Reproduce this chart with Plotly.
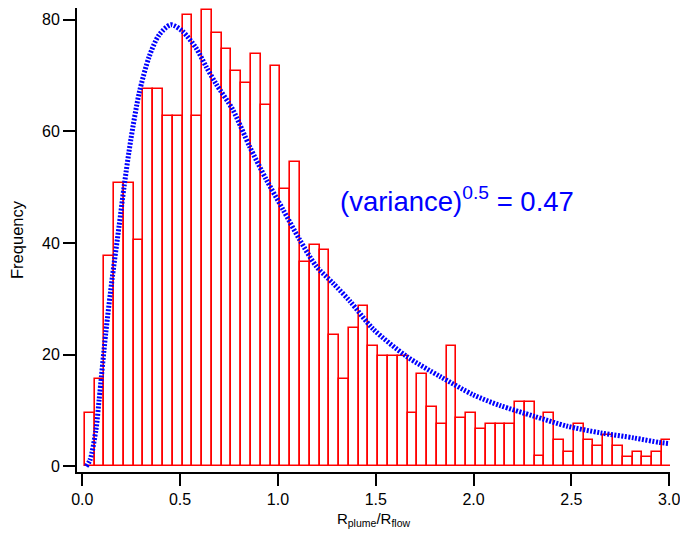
import numpy as np
import plotly.graph_objects as go

# Histogram: 60 bins of width 0.05 starting at 0.0125
bin_start = 0.0125
bin_width = 0.05
counts = [9.6, 15.7, 37.6, 50.8, 50.8, 40.6, 67.6, 67.6, 62.7, 62.7,
          80.8, 62.7, 81.7, 77.7, 74.8, 70.8, 68.7, 73.9, 64.8, 71.8,
          49.7, 54.6, 36.7, 39.7, 38.8, 23.6, 15.7, 24.8, 28.7, 21.5,
          19.7, 19.7, 19.7, 9.6, 16.6, 10.7, 7.6, 21.5, 8.7, 9.6,
          6.7, 7.6, 7.6, 7.6, 11.6, 11.6, 1.8, 9.6, 4.7, 2.6,
          7.6, 4.7, 3.7, 5.7, 3.7, 1.7, 2.6, 1.7, 2.6, 4.7]

# Fitted curve
fit_x = [0.02, 0.04, 0.07, 0.086, 0.12, 0.154, 0.188, 0.214, 0.248, 0.291,
         0.342, 0.393, 0.453, 0.513, 0.582, 0.633, 0.684, 0.769, 0.855, 0.94,
         1.026, 1.111, 1.197, 1.282, 1.368, 1.487, 1.658, 1.829, 2.0, 2.136,
         2.308, 2.479, 2.65, 2.82, 2.949, 3.0]
fit_y = [0.0, 1.2, 6.6, 11.9, 23.9, 34.0, 43.0, 50.2, 58.5, 66.9,
         73.4, 77.3, 79.1, 77.9, 74.9, 71.6, 68.5, 63.9, 57.3, 51.4,
         46.0, 40.6, 35.8, 32.8, 29.6, 24.6, 19.7, 16.1, 12.8, 10.9,
         9.0, 7.2, 6.0, 5.1, 4.3, 4.1]

x_ticks = [0.0, 0.5, 1.0, 1.5, 2.0, 2.5, 3.0]
x_tick_labels = ["0.0", "0.5", "1.0", "1.5", "2.0", "2.5", "3.0"]
y_ticks = [0, 20, 40, 60, 80]
y_tick_labels = ["0", "20", "40", "60", "80"]

annotation_text = "(variance)<sup>0.5</sup> = 0.47"

centers = bin_start + bin_width / 2 + bin_width * np.arange(len(counts))

FONT = "Liberation Sans, Arial, sans-serif"

fig = go.Figure()
fig.add_trace(go.Bar(
    x=centers, y=counts, width=bin_width,
    marker=dict(color="white", line=dict(color="#FF0000", width=1.6)),
    showlegend=False, hoverinfo="x+y",
))
fig.add_trace(go.Scatter(
    x=fit_x, y=fit_y, mode="lines",
    line=dict(color="#0000FF", width=5, dash="2px,1.5px", shape="spline", smoothing=0.8),
    showlegend=False,
))

fig.add_annotation(
    x=1.307, y=47.8, xref="x", yref="y", xanchor="left", yanchor="middle",
    text=annotation_text, showarrow=False,
    font=dict(family=FONT, size=27.5, color="#0000FF"),
)

fig.update_layout(
    width=680, height=535,
    margin=dict(l=77, r=10, t=8, b=63),
    paper_bgcolor="white", plot_bgcolor="white",
    bargap=0,
    font=dict(family=FONT, size=16, color="black"),
    xaxis=dict(
        range=[-0.027, 3.004], tickvals=x_ticks, ticktext=x_tick_labels,
        showline=True, linecolor="black", linewidth=2,
        ticks="outside", ticklen=12, tickwidth=2, tickcolor="black",
        showgrid=False, zeroline=False, ticklabeloverflow="allow",
        automargin=False,
        title=dict(text="R<sub>plume</sub>/R<sub>flow</sub>", font=dict(size=15), standoff=6),
        tickfont=dict(size=16),
    ),
    yaxis=dict(
        range=[-1.0, 82.1], tickvals=y_ticks, ticktext=y_tick_labels,
        showline=True, linecolor="black", linewidth=2,
        ticks="outside", ticklen=12, tickwidth=2, tickcolor="black",
        showgrid=False, zeroline=False, automargin=False,
        title=dict(text="Frequency", font=dict(size=16.5), standoff=14),
        tickfont=dict(size=16),
    ),
)

fig.write_html("out.html")
